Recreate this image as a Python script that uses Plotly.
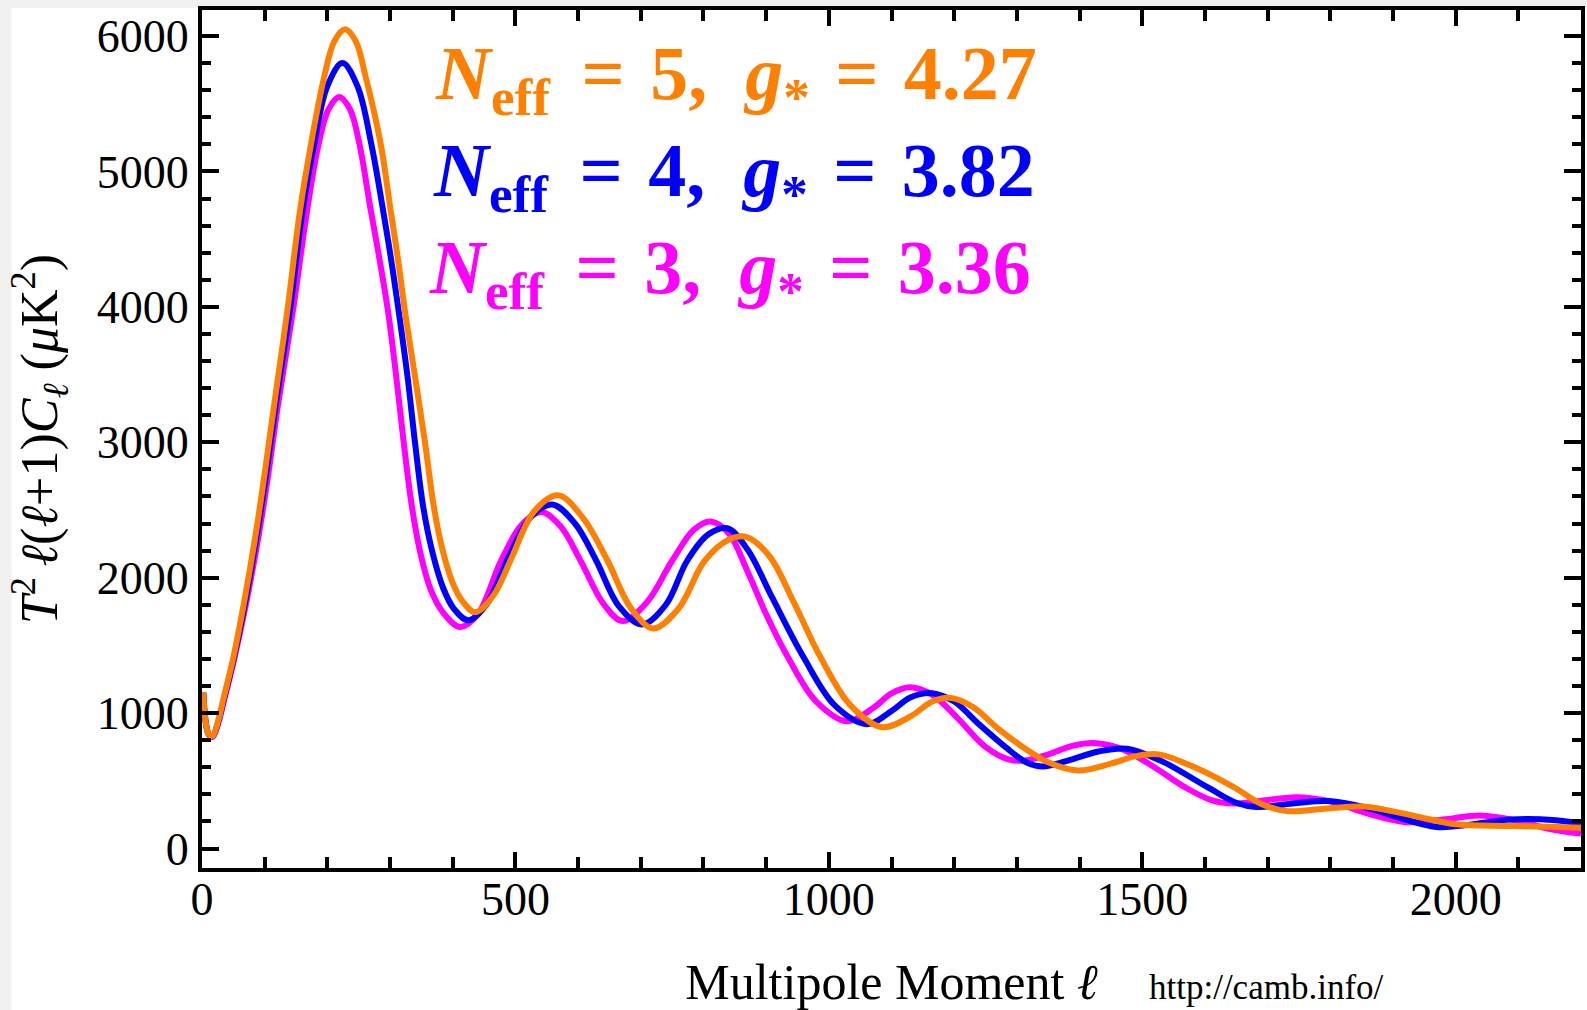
import plotly.graph_objects as go

# ---------------- data ----------------
ell_n3 = [2, 6, 11, 17, 25, 35, 50, 70, 90, 105, 121, 146, 166, 185, 202, 219, 236, 251, 269, 284, 297, 310,
          322, 335, 349, 365, 385, 412, 440, 477, 510, 541, 572, 604, 640, 671, 710, 750, 785, 811,
          840, 870, 900, 935, 980, 1029, 1070, 1100, 1129, 1165, 1205, 1250, 1285, 1313, 1350, 1390, 1427, 1470,
          1520, 1568, 1610, 1646, 1700, 1746, 1800, 1860, 1922, 1980, 2039, 2100, 2150, 2200]
cl_n3 = [1150, 930, 840, 825, 910, 1090, 1370, 1800, 2300, 2740, 3270, 4000, 4660, 5180, 5460, 5550, 5460, 5205,
         4720, 4330, 3960, 3480, 2990, 2520, 2170, 1910, 1740, 1635, 1730, 2125, 2390, 2485, 2380,
         2125, 1810, 1680, 1820, 2125, 2355, 2415, 2330, 2050, 1730, 1410, 1085, 940, 1035, 1145, 1190, 1135,
         965, 750, 660, 650, 695, 760, 778, 730, 598, 453, 358, 332, 358, 379, 348, 258, 194, 214, 244, 204,
         144, 110]

ell_n4 = [2, 6, 11, 17, 25, 35, 50, 69, 88, 102, 118, 141, 160, 179, 200, 224, 248, 270, 289, 302, 314, 328,
          340, 353, 368, 385, 402, 425, 455, 490, 525, 559, 595, 629, 665, 702, 740, 774, 808, 838,
          870, 910, 960, 1010, 1061, 1100, 1130, 1165, 1200, 1240, 1282, 1315, 1341, 1380, 1430, 1476, 1530,
          1604, 1650, 1682, 1740, 1802, 1860, 1920, 1970, 2020, 2088, 2155, 2200]
cl_n4 = [1150, 930, 840, 828, 920, 1105, 1390, 1820, 2330, 2755, 3290, 4000, 4700, 5205, 5630, 5800, 5630, 5205,
         4710, 4340, 3960, 3480, 2990, 2520, 2180, 1920, 1770, 1685, 1810, 2160, 2450, 2540, 2400,
         2125, 1790, 1655, 1800, 2125, 2320, 2365, 2210, 1850, 1410, 1055, 918, 1015, 1115, 1147, 1085, 915,
         748, 637, 606, 647, 716, 736, 647, 453, 338, 306, 333, 349, 298, 214, 159, 174, 214, 211, 184]

ell_n5 = [2, 6, 11, 17, 25, 35, 50, 68, 87, 100, 116, 137, 156, 174, 195, 211, 228, 245, 261, 285, 301, 313, 324,
          340, 356, 370, 384, 400, 415, 436, 465, 492, 530, 568, 608, 647, 685, 720, 760, 802, 840,
          869, 905, 945, 987, 1035, 1085, 1130, 1165, 1193, 1230, 1270, 1310, 1350, 1398, 1450, 1490, 1526,
          1580, 1646, 1690, 1732, 1790, 1852, 1900, 1954, 2000, 2080, 2150, 2200]
cl_n5 = [1150, 930, 840, 830, 930, 1120, 1410, 1840, 2360, 2770, 3305, 4000, 4700, 5205, 5700, 5960, 6050, 5964,
         5700, 5205, 4710, 4340, 3960, 3480, 2990, 2520, 2200, 1960, 1830, 1745, 1870, 2125, 2490,
         2608, 2440, 2125, 1770, 1625, 1770, 2125, 2280, 2300, 2160, 1810, 1410, 1055, 896, 975, 1085, 1113,
         1045, 885, 748, 637, 576, 627, 682, 695, 607, 453, 328, 276, 294, 310, 274, 221, 179, 167, 161, 154]

series = [
    ("N_eff = 3", ell_n3, cl_n3, "#FF00FF"),
    ("N_eff = 4", ell_n4, cl_n4, "#0000FF"),
    ("N_eff = 5", ell_n5, cl_n5, "#FF7F00"),
]

x_ticks = [0, 500, 1000, 1500, 2000]
y_ticks = [0, 1000, 2000, 3000, 4000, 5000, 6000]

S1 = "\u2004\u200a"   # gap between subscript and '='
S2 = "\u2004"         # gap around '='
S3 = "\u2002"         # gap after comma
labels = [
    (f"<b><i>N</i><sub>eff</sub>{S1}={S2}5,{S3}<i>g</i><sub>*</sub>{S2}={S2}4.27</b>", "#FF7F00", 0.1678, 0.9190),
    (f"<b><i>N</i><sub>eff</sub>{S1}={S2}4,{S3}<i>g</i><sub>*</sub>{S2}={S2}3.82</b>", "#0000FF", 0.1664, 0.8065),
    (f"<b><i>N</i><sub>eff</sub>{S1}={S2}3,{S3}<i>g</i><sub>*</sub>{S2}={S2}3.36</b>", "#FF00FF", 0.1635, 0.6934),
]

# ---------------- figure ----------------
fig = go.Figure()
for name, xs, ys, col in series:
    fig.add_trace(go.Scatter(x=xs, y=ys, mode="lines", name=name,
                             line=dict(color=col, width=6, shape="spline", smoothing=1.0),
                             showlegend=False, hoverinfo="skip"))

SERIF = "Liberation Serif, Times New Roman, DejaVu Serif, serif"

fig.update_layout(
    width=1587, height=1010,
    margin=dict(l=202, r=2, t=10, b=142),
    paper_bgcolor="#f1f1f1", plot_bgcolor="white",
    font=dict(family=SERIF, color="black", size=46),
    showlegend=False,
)

# white page over the light grey edge strip
fig.add_shape(type="rect", xref="paper", yref="paper", layer="below",
              x0=(11 - 202) / 1383, x1=(1600 - 202) / 1383,
              y0=(868 - 1020) / 858, y1=(868 - 8) / 858,
              line=dict(width=0), fillcolor="white")

fig.update_xaxes(
    range=[0, 2200], tickvals=x_ticks, ticktext=[str(v) for v in x_ticks],
    showline=True, linecolor="black", linewidth=4, mirror="ticks",
    ticks="inside", ticklen=16, tickwidth=3.5, tickcolor="black",
    minor=dict(ticks="inside", dtick=100, ticklen=11, tickwidth=3.5, tickcolor="black"),
    showgrid=False, zeroline=False,
    tickfont=dict(family=SERIF, size=46, color="black"), ticklabelstandoff=-12,
    title=dict(text="Multipole Moment <i>ℓ</i>", font=dict(family=SERIF, size=50, color="black"), standoff=43),
)
fig.update_yaxes(
    range=[-144, 6192], tickvals=y_ticks, ticktext=[str(v) for v in y_ticks],
    showline=True, linecolor="black", linewidth=4, mirror="ticks",
    ticks="inside", ticklen=17, tickwidth=3.5, tickcolor="black",
    minor=dict(ticks="inside", dtick=200, ticklen=9, tickwidth=3.5, tickcolor="black"),
    showgrid=False, zeroline=False,
    tickfont=dict(family=SERIF, size=46, color="black"), ticklabelstandoff=0,
    title=dict(text="<i>T</i><sup>2</sup>\u2009<i>ℓ</i>(<i>ℓ</i>+1)<i>C</i><sub><i>ℓ</i></sub> (<i>μ</i>K<sup>2</sup>)",
               font=dict(family=SERIF, size=52, color="black"), standoff=24),
)

for txt, col, xp, yp in labels:
    fig.add_annotation(text=txt, xref="paper", yref="paper", x=xp, y=yp,
                       xanchor="left", yanchor="middle", showarrow=False,
                       font=dict(family=SERIF, size=76, color=col))

fig.add_annotation(text="http://camb.info/", xref="paper", yref="paper",
                   x=(1150 - 202) / 1383, y=(868 - 988) / 858,
                   xanchor="left", yanchor="middle", showarrow=False,
                   font=dict(family=SERIF, size=35, color="black"))

fig.write_html("out.html")
